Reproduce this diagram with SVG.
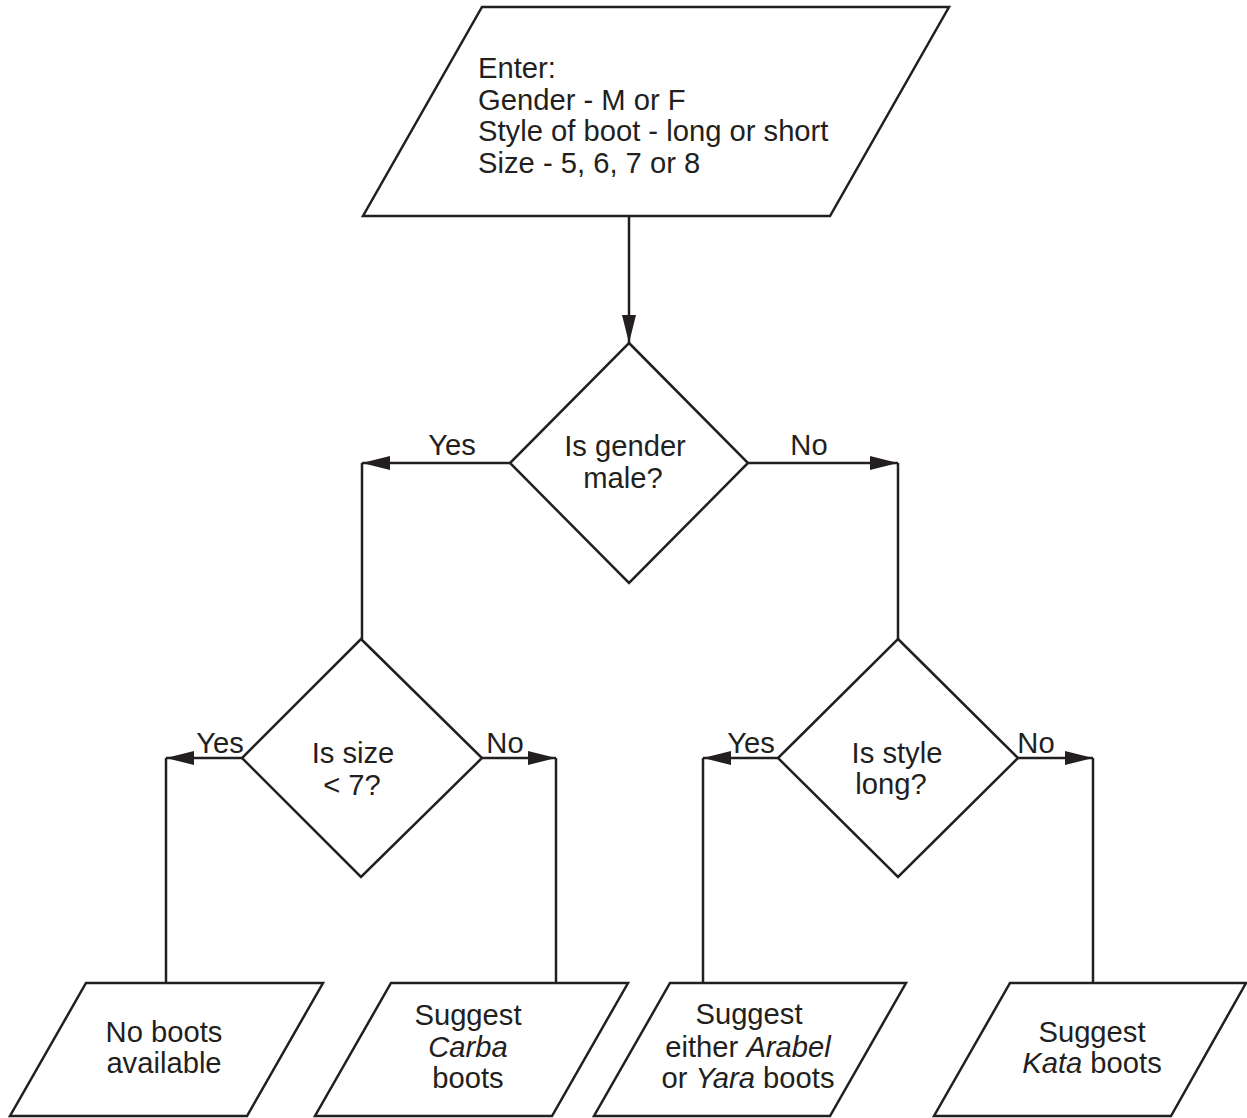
<svg xmlns="http://www.w3.org/2000/svg" width="1247" height="1118" viewBox="0 0 1247 1118">
<style>
.shape{fill:#ffffff;stroke:#231f20;stroke-width:2.5;stroke-linejoin:miter}
.conn{fill:none;stroke:#231f20;stroke-width:2.5}
text{font-family:"Liberation Sans",Arial,Helvetica,sans-serif;font-size:29.2px;fill:#231f20}
.c{text-anchor:middle}
.i{font-style:italic}
</style>
<defs>
<marker id="arrow" viewBox="0 0 28 14" refX="28" refY="7" markerWidth="28" markerHeight="14" markerUnits="userSpaceOnUse" orient="auto">
<path d="M0,0 L28,7 L0,14 Z" fill="#231f20"/>
</marker>
</defs>
<rect x="0" y="0" width="1247" height="1118" fill="#ffffff"/>
<g id="connectors">
<path class="conn" d="M629,216 V343" marker-end="url(#arrow)"/>
<path class="conn" d="M510,463 H362" marker-end="url(#arrow)"/>
<path class="conn" d="M362,463 V639"/>
<path class="conn" d="M748,463 H898" marker-end="url(#arrow)"/>
<path class="conn" d="M898,463 V639"/>
<path class="conn" d="M242,758 H166" marker-end="url(#arrow)"/>
<path class="conn" d="M166,758 V983"/>
<path class="conn" d="M482,758 H556" marker-end="url(#arrow)"/>
<path class="conn" d="M556,758 V983"/>
<path class="conn" d="M778,758 H703" marker-end="url(#arrow)"/>
<path class="conn" d="M703,758 V983"/>
<path class="conn" d="M1018,758 H1093" marker-end="url(#arrow)"/>
<path class="conn" d="M1093,758 V983"/>
<text x="452" y="455" class="c">Yes</text>
<text x="809" y="455" class="c">No</text>
<text x="220" y="753" class="c">Yes</text>
<text x="505" y="753" class="c">No</text>
<text x="751" y="753" class="c">Yes</text>
<text x="1036" y="753" class="c">No</text>
</g>
<g id="input">
<polygon class="shape" points="482,7 949,7 830,216 363,216"/>
<text x="478" y="78">Enter:</text>
<text x="478" y="110">Gender - M or F</text>
<text x="478" y="141">Style of boot - long or short</text>
<text x="478" y="173">Size - 5, 6, 7 or 8</text>
</g>
<g id="gender">
<polygon class="shape" points="629,343 748,463 629,583 510,463"/>
<text x="625" y="456" class="c">Is gender</text>
<text x="623" y="488" class="c">male?</text>
</g>
<g id="size">
<polygon class="shape" points="361,639 482,758 361,877 242,758"/>
<text x="353" y="763" class="c">Is size</text>
<text x="352" y="795" class="c">&lt; 7?</text>
</g>
<g id="style">
<polygon class="shape" points="898,639 1018,758 898,877 778,758"/>
<text x="897" y="763" class="c">Is style</text>
<text x="891" y="794" class="c">long?</text>
</g>
<g id="noboots">
<polygon class="shape" points="86,983 323,983 247,1116 10,1116"/>
<text x="164" y="1042" class="c">No boots</text>
<text x="164" y="1073" class="c">available</text>
</g>
<g id="carba">
<polygon class="shape" points="391,983 628,983 552,1116 315,1116"/>
<text x="468" y="1025" class="c">Suggest</text>
<text x="468" y="1057" class="c i">Carba</text>
<text x="468" y="1088" class="c">boots</text>
</g>
<g id="arabel">
<polygon class="shape" points="670,983 906,983 830,1116 594,1116"/>
<text x="749" y="1024" class="c">Suggest</text>
<text x="748" y="1057" class="c">either <tspan class="i">Arabel</tspan></text>
<text x="748" y="1088" class="c">or <tspan class="i">Yara</tspan> boots</text>
</g>
<g id="kata">
<polygon class="shape" points="1010,983 1246,983 1171,1116 934,1116"/>
<text x="1092" y="1042" class="c">Suggest</text>
<text x="1092" y="1073" class="c"><tspan class="i">Kata</tspan> boots</text>
</g>
</svg>
